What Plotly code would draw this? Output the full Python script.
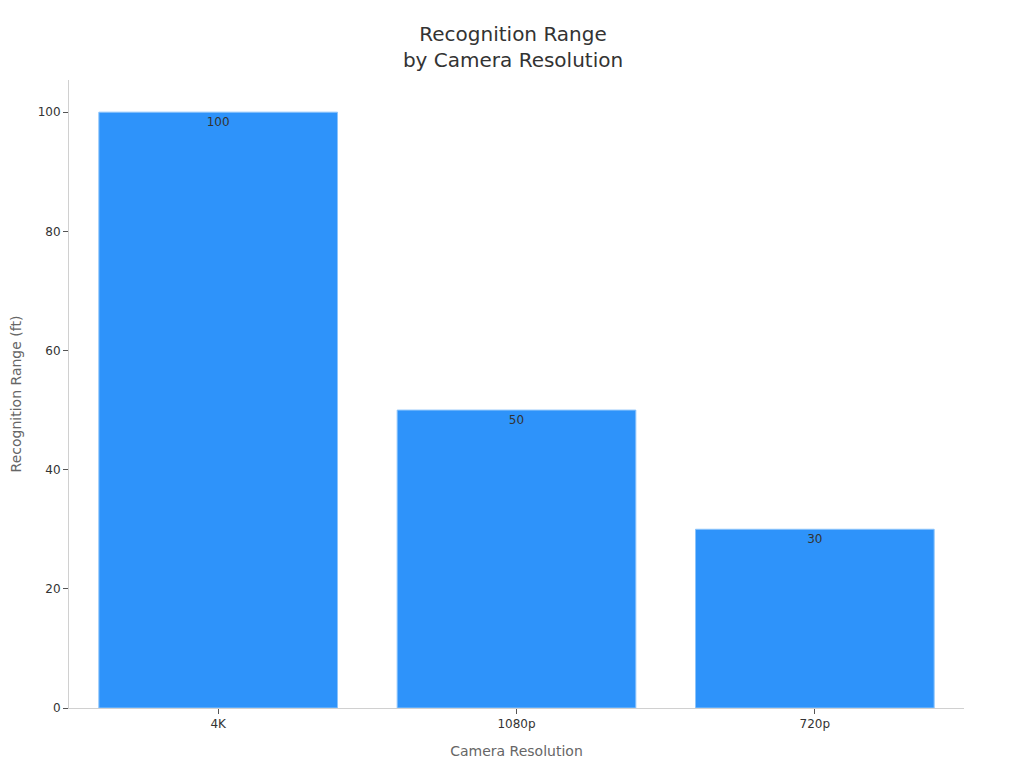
import plotly.graph_objects as go

resolutions = ["4K", "1080p", "720p"]
range_ft = [100, 50, 30]

fig = go.Figure()
fig.add_trace(go.Bar(
    x=resolutions,
    y=range_ft,
    text=[str(v) for v in range_ft],
    textposition="inside",
    insidetextanchor="end",
    textfont=dict(color="#333333", size=12, family="DejaVu Sans"),
    marker=dict(color="#2E93FA", line=dict(color="#8cc4fb", width=1)),
))

fig.update_layout(
    width=1024, height=768,
    paper_bgcolor="white", plot_bgcolor="white",
    font=dict(family="DejaVu Sans", color="#333333", size=12),
    title=dict(text="Recognition Range<br>by Camera Resolution", x=0.4932, y=0.957,
               xanchor="center", yanchor="top",
               font=dict(size=20, color="#333333")),
    margin=dict(l=61, r=68, t=72, b=68),
    bargap=0.2,
    showlegend=False,
    xaxis=dict(
        title=dict(text="Camera Resolution", font=dict(size=14, color="#666666"), standoff=15),
        showline=True, linecolor="#d0d0d0", linewidth=1,
        ticks="outside", ticklen=5, tickcolor="#555555",
        showgrid=False, automargin=False,
    ),
    yaxis=dict(
        title=dict(text="Recognition Range (ft)", font=dict(size=14, color="#666666"), standoff=16),
        range=[0, 105.4], dtick=20,
        showline=True, linecolor="#d0d0d0", linewidth=1,
        ticks="outside", ticklen=5, tickcolor="#555555",
        showgrid=False, zeroline=False, automargin=False,
    ),
)

fig.write_html("out.html")
